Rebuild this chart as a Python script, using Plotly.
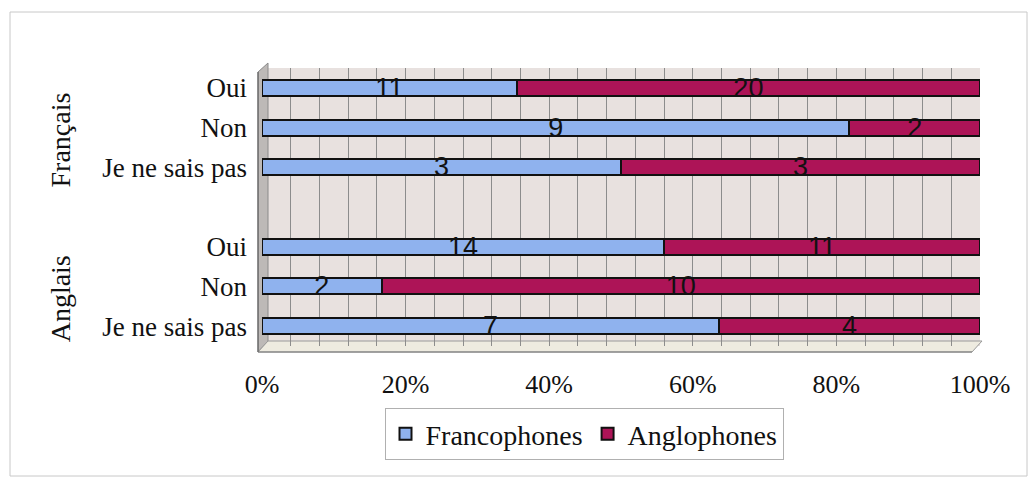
import plotly.graph_objects as go

# Survey answers, grouped by language asked about
groupes = ["Français", "Anglais"]
reponses = ["Oui", "Non", "Je ne sais pas"]
francophones = [11, 9, 3, 14, 2, 7]
anglophones = [20, 2, 3, 11, 10, 4]

# Row positions: three answers per group, with an empty row between groups
positions = []
labels = []
for g, _ in enumerate(groupes):
    for i, rep in enumerate(reponses):
        positions.append(g * (len(reponses) + 1) + i)
        labels.append(rep)

W, H = 1033, 479
L, R, T, B = 262, 53, 68, 133
pw, ph = W - L - R, H - T - B


def px(x):
    return (x - L) / pw


def py(y):
    return (H - B - y) / ph


BLUE = "#8fb2ee"
MAGENTA = "#ad1457"
SERIF = "Liberation Serif"
INK = "#111111"

bar_text = dict(family="Liberation Sans", size=27, color=INK)

fig = go.Figure()
fig.add_trace(go.Bar(
    name="Francophones", y=positions, x=francophones, orientation="h",
    text=francophones, textposition="inside", insidetextanchor="middle",
    constraintext="none", textangle=0, textfont=bar_text,
    marker=dict(color=BLUE, line=dict(color=INK, width=2)),
))
fig.add_trace(go.Bar(
    name="Anglophones", y=positions, x=anglophones, orientation="h",
    text=anglophones, textposition="inside", insidetextanchor="middle",
    constraintext="none", textangle=0, textfont=bar_text,
    marker=dict(color=MAGENTA, line=dict(color=INK, width=2)),
))

# Group titles, written vertically beside each block of answers
annotations = []
for g, nom in enumerate(groupes):
    annotations.append(dict(
        text=nom, xref="paper", x=px(60), xanchor="center", yref="y",
        y=g * (len(reponses) + 1) + (len(reponses) - 1) / 2 + 0.3,
        yanchor="middle", textangle=-90, showarrow=False,
        font=dict(family=SERIF, size=28, color=INK),
    ))

# Side wall, floor and outer frame of the 3D-style chart
shapes = [
    dict(type="path", xref="paper", yref="paper", layer="below",
         path=f"M {px(258)} {py(352)} L {px(258)} {py(72)} L {px(268)} {py(63)} "
              f"L {px(268)} {py(341)} Z",
         fillcolor="#bdb9b7", line=dict(color="#8a8a8a", width=1)),
    dict(type="path", xref="paper", yref="paper", layer="below",
         path=f"M {px(258)} {py(352)} L {px(972)} {py(352)} L {px(982)} {py(341)} "
              f"L {px(268)} {py(341)} Z",
         fillcolor="#eeebe0", line=dict(color="#9a9a9a", width=1)),
    dict(type="line", xref="paper", yref="paper",
         x0=px(258), x1=px(258), y0=py(352), y1=py(72),
         line=dict(color="#555555", width=1)),
    dict(type="line", xref="paper", yref="paper",
         x0=px(258), x1=px(972), y0=py(352), y1=py(352),
         line=dict(color="#777777", width=1)),
    dict(type="rect", xref="paper", yref="paper",
         x0=px(10), x1=px(1027), y0=py(476), y1=py(12),
         line=dict(color="#c8c8c8", width=1), fillcolor="rgba(0,0,0,0)"),
]

fig.update_layout(
    width=W, height=H,
    margin=dict(l=L, r=R, t=T, b=B),
    barmode="stack", barnorm="percent", bargap=0.6,
    paper_bgcolor="white", plot_bgcolor="#e8e1df",
    font=dict(family=SERIF, size=27, color=INK),
    showlegend=True,
    legend=dict(
        orientation="h", x=px(584), xanchor="center", y=py(408), yanchor="top",
        bordercolor="#b0b0b0", borderwidth=1, bgcolor="white",
        font=dict(family=SERIF, size=28, color=INK),
        itemwidth=30, traceorder="normal",
    ),
    xaxis=dict(
        range=[0, 100], tickvals=[0, 20, 40, 60, 80, 100],
        ticktext=["0%", "20%", "40%", "60%", "80%", "100%"],
        showgrid=True, gridcolor="#8c8c8c", gridwidth=1,
        minor=dict(dtick=4, showgrid=True, gridcolor="#8c8c8c", gridwidth=1),
        zeroline=False, showline=False, ticks="", ticklabelstandoff=20,
        tickfont=dict(family=SERIF, size=26, color=INK),
        fixedrange=True,
    ),
    yaxis=dict(
        tickvals=positions, ticktext=labels,
        range=[max(positions) + 0.5, -0.5],
        showgrid=False, zeroline=False, showline=False, ticks="",
        ticklabelstandoff=14,
        tickfont=dict(family=SERIF, size=27, color=INK),
        fixedrange=True,
    ),
    annotations=annotations,
    shapes=shapes,
)

fig.write_html("out.html")
